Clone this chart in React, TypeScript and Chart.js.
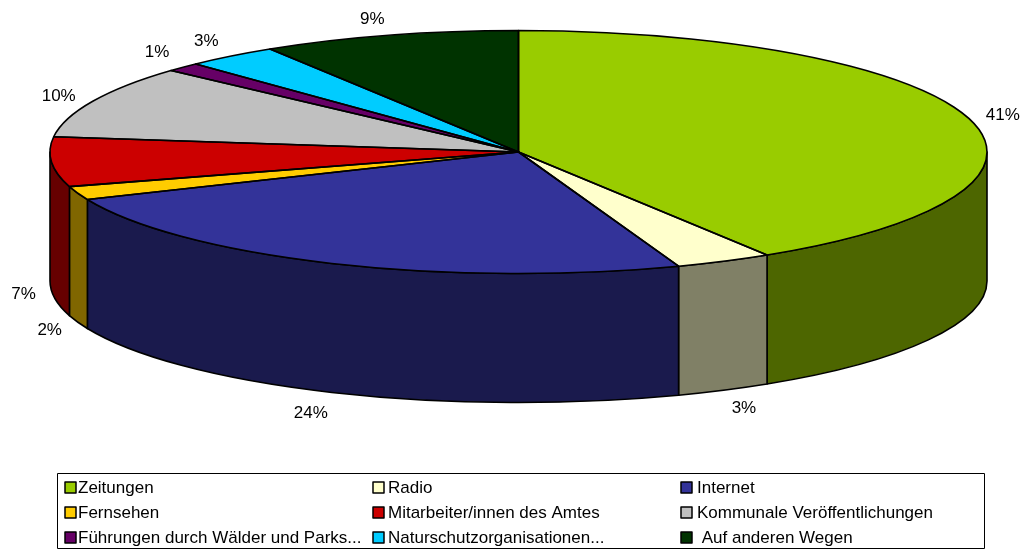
import React, { useEffect, useRef } from "react";
import { Chart, registerables } from "chart.js";

Chart.register(...registerables);

const categories = [
  "Zeitungen",
  "Radio",
  "Internet",
  "Fernsehen",
  "Mitarbeiter/innen des Amtes",
  "Kommunale Veröffentlichungen",
  "Führungen durch Wälder und Parks...",
  "Naturschutzorganisationen...",
  " Auf anderen Wegen",
];
const shares = [41.1, 3.35, 24.15, 1.8, 6.6, 9.7, 1.2, 3.2, 8.9];
const topColors = ["#99CC00", "#FFFFCC", "#333399", "#FFCC00", "#CC0000", "#C0C0C0", "#660066", "#00CCFF", "#003300"];
const sideColors = ["#4D6600", "#808066", "#1A1A4D", "#806600", "#660000", "#606060", "#330033", "#006680", "#001A00"];
const percentLabels = ["41%", "3%", "24%", "2%", "7%", "10%", "1%", "3%", "9%"];
// label centre, relative to the slice's mid-rim point (front slices: the lower rim)
const labelNudges = [[34, -3], [20, 18], [-21, 21], [-28, 8], [-28, 3], [-34, -5], [-26, -15], [-25, -15], [-17, -16]];

const CX = 518.5;
const CY = 152;
const RX = 468.5;
const RY = 121.5;
const DEPTH = 129;
const FONT = '17px "Liberation Sans", Arial, sans-serif';
const INK = "#000000";
const STROKE = 1.6;

const legendBox = { left: 57.5, top: 473.5, right: 984.5, bottom: 548.5 };
const legendSwatchX = [65, 373, 681];
const legendTextX = [78, 388, 697];
const legendRowY = [488, 513, 538];

const pie3d = {
  id: "pie3d",
  beforeDatasetsDraw(chart: any) {
    const ctx = chart.ctx;
    const arcs = chart.getDatasetMeta(0).data;
    ctx.save();
    ctx.lineWidth = STROKE;
    ctx.strokeStyle = INK;
    ctx.lineJoin = "round";
    arcs.forEach((el: any, i: number) => {
      const a = Math.max(el.startAngle, 0);
      const b = Math.min(el.endAngle, Math.PI);
      if (b <= a) return;
      ctx.beginPath();
      ctx.ellipse(CX, CY, RX, RY, 0, a, b);
      ctx.lineTo(CX + RX * Math.cos(b), CY + RY * Math.sin(b) + DEPTH);
      ctx.ellipse(CX, CY + DEPTH, RX, RY, 0, b, a, true);
      ctx.closePath();
      ctx.fillStyle = sideColors[i];
      ctx.fill();
      ctx.stroke();
    });
    ctx.restore();

    // Squash the library's circular arcs into the top ellipse.
    const R = arcs[0].outerRadius;
    ctx.save();
    ctx.translate(CX, CY);
    ctx.scale(RX / R, RY / R);
    ctx.translate(-arcs[0].x, -arcs[0].y);
  },
  afterDatasetsDraw(chart: any) {
    const ctx = chart.ctx;
    ctx.restore();
    const arcs = chart.getDatasetMeta(0).data;
    ctx.save();
    ctx.lineWidth = STROKE;
    ctx.strokeStyle = INK;
    ctx.lineJoin = "round";
    arcs.forEach((el: any) => {
      ctx.beginPath();
      ctx.moveTo(CX, CY);
      ctx.ellipse(CX, CY, RX, RY, 0, el.startAngle, el.endAngle);
      ctx.closePath();
      ctx.stroke();
    });
    ctx.font = FONT;
    ctx.fillStyle = INK;
    ctx.textAlign = "center";
    ctx.textBaseline = "middle";
    arcs.forEach((el: any, i: number) => {
      const mid = (el.startAngle + el.endAngle) / 2;
      const front = Math.sin(mid) > 0;
      const x = CX + RX * Math.cos(mid);
      const y = CY + RY * Math.sin(mid) + (front ? DEPTH : 0);
      ctx.fillText(percentLabels[i], x + labelNudges[i][0], y + labelNudges[i][1]);
    });

    // Legend: three columns, three rows, read left to right.
    ctx.lineWidth = 1;
    ctx.strokeStyle = INK;
    ctx.strokeRect(legendBox.left, legendBox.top, legendBox.right - legendBox.left, legendBox.bottom - legendBox.top);
    ctx.textAlign = "left";
    categories.forEach((name, i) => {
      const col = i % 3;
      const row = Math.floor(i / 3);
      const y = legendRowY[row];
      ctx.lineWidth = 1.5;
      ctx.fillStyle = topColors[i];
      ctx.fillRect(legendSwatchX[col], y - 6, 11, 11);
      ctx.strokeRect(legendSwatchX[col], y - 6, 11, 11);
      ctx.fillStyle = INK;
      ctx.fillText(name, legendTextX[col], y);
    });
    ctx.restore();
  },
};

export default function App() {
  const ref = useRef<HTMLCanvasElement>(null);
  useEffect(() => {
    const chart = new Chart(ref.current as HTMLCanvasElement, {
      type: "pie",
      data: {
        labels: categories,
        datasets: [
          {
            data: shares,
            backgroundColor: topColors,
            borderWidth: 0,
            clip: false,
          } as any,
        ],
      },
      options: {
        responsive: false,
        animation: false,
        layout: { padding: { top: 10, bottom: 250 } },
        plugins: { legend: { display: false }, tooltip: { enabled: false } },
      },
      plugins: [pie3d],
    });
    return () => chart.destroy();
  }, []);
  return (
    <canvas
      ref={ref}
      width={1021}
      height={550}
      style={{ position: "fixed", left: 0, top: 0, display: "block" }}
    />
  );
}
